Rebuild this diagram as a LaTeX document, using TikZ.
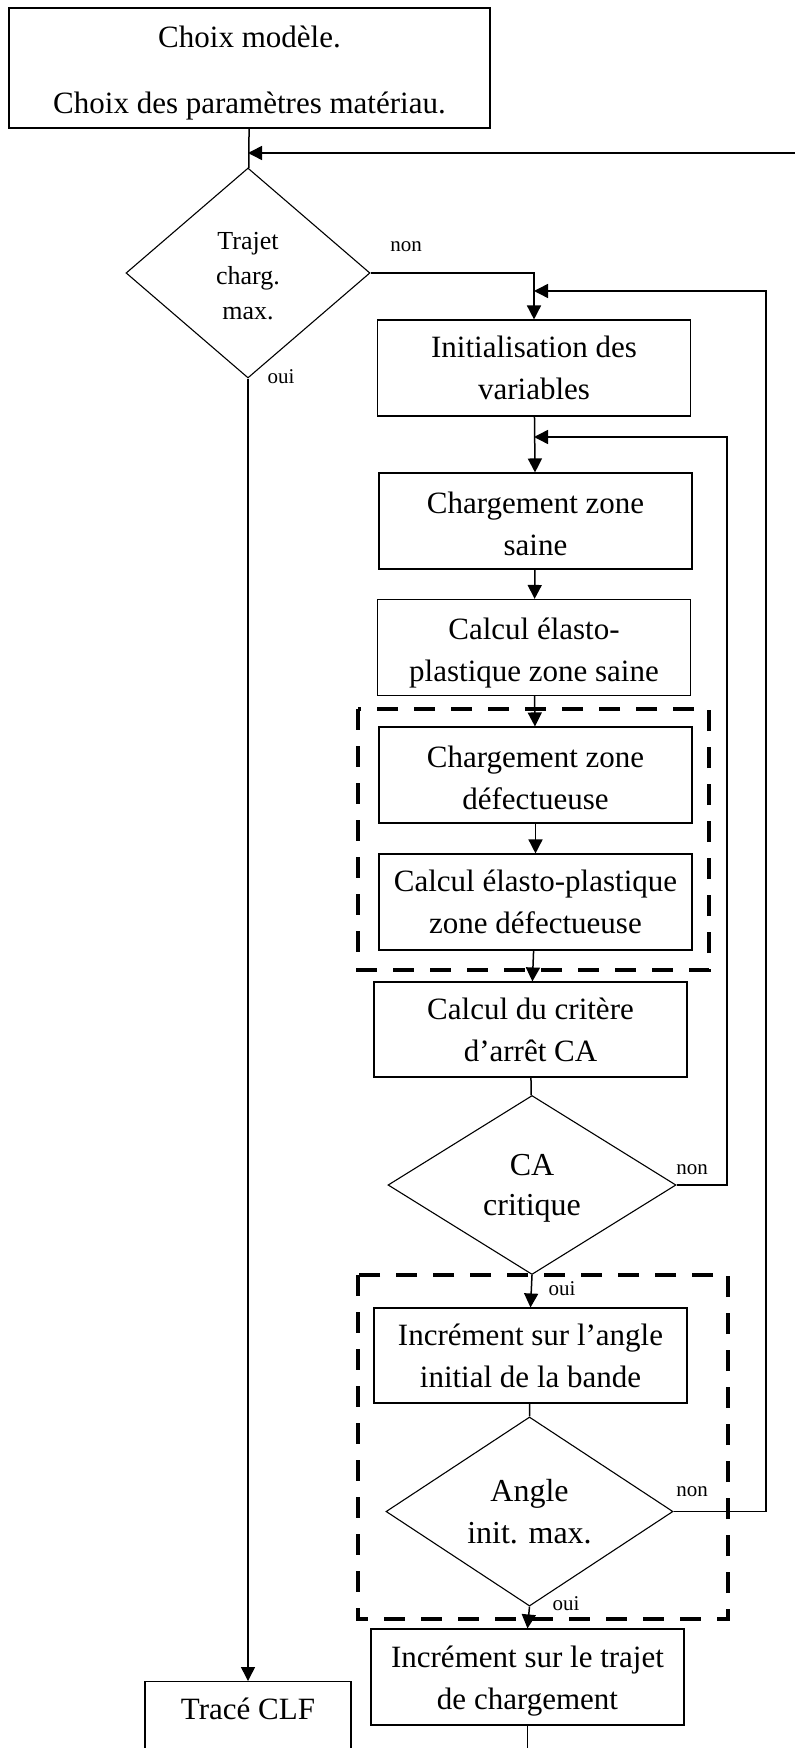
\documentclass[tikz,border=0pt]{standalone}
\usepackage{fontspec}
\setmainfont{Liberation Serif}
\usetikzlibrary{shapes.geometric,arrows.meta}
\newcommand{\haut}[1]{\rule{0pt}{#1}}
\tikzset{
  boite/.style={draw, line width=0.55pt, minimum width=156.5pt, minimum height=48pt,
    inner sep=0pt, align=center, font=\fontsize{15.5}{21}\selectfont},
  losange/.style={draw, diamond, line width=0.55pt, inner sep=0pt, align=center},
  fleche/.style={line width=0.75pt, -{Triangle[length=7pt,width=7pt]}},
  trait/.style={line width=0.75pt},
  cadre/.style={line width=2pt, dash pattern=on 10.5pt off 8pt},
  etiq/.style={inner sep=0pt, font=\fontsize{10.5}{12}\selectfont},
}
\begin{document}
\begin{tikzpicture}[x=0.5pt,y=-0.5pt]
      \useasboundingbox (0,0) rectangle (795,1748);
      \clip (0,0) rectangle (795,1748);
      \node[boite, minimum width=240.5pt, minimum height=60pt] (choix) at (249.5,68)
        {\haut{15.5pt}Choix modèle.\\[12pt]Choix des paramètres matériau.};
      \node[losange, minimum width=122pt, minimum height=105pt, font=\fontsize{13}{17.5}\selectfont]
        (trajet) at (248,273) {\haut{12pt}Trajet\\charg.\\max.};
      \node[boite] (init) at (534,368) {Initialisation des\\variables};
      \node[boite] (chsaine) at (535.5,521) {\haut{14pt}Chargement zone\\saine};
      \node[boite] (calsaine) at (534,647.5) {\haut{16pt}Calcul élasto-\\plastique zone saine};
      \node[boite] (chdef) at (535.5,775) {\haut{14pt}Chargement zone\\défectueuse};
      \node[boite] (caldef) at (535.5,902) {Calcul élasto-plastique\\zone défectueuse};
      \node[boite, minimum height=47.5pt] (critere) at (530.5,1029.5) {Calcul du critère\\d’arrêt CA};
      \node[losange, minimum width=144pt, minimum height=89.5pt, font=\fontsize{16}{20}\selectfont]
        (ca) at (532,1185) {\haut{13.5pt}CA\\critique};
      \node[boite, minimum height=47.5pt] (incangle) at (530.5,1355.5) {Incrément sur l’angle\\initial de la bande};
      \node[losange, minimum width=143.5pt, minimum height=90.5pt, font=\fontsize{16}{21}\selectfont]
        (angle) at (529.5,1511.5) {Angle\\init. max.};
      \node[boite] (inctrajet) at (527.5,1677) {\haut{14.5pt}Incrément sur le trajet\\de chargement};
      \node[boite, minimum width=103pt, anchor=north] (trace) at (248,1681) {Tracé CLF\\\mbox{}};

      \node[etiq] (non1) at (406,247) {non};
      \node[etiq] (oui1) at (281,377) {oui};
      \node[etiq] (non2) at (692,1170) {non};
      \node[etiq] (oui2) at (562,1289) {oui};
      \node[etiq] (non3) at (692,1492) {non};
      \node[etiq] (oui3) at (566,1604) {oui};

      \coordinate (retour) at (800,153);
      \coordinate (boucleA) at (766,291);
      \coordinate (boucleB) at (727,437);
      \coordinate (bas) at (0,1760);

      \draw[trait] (choix) -- (trajet);
      \draw[fleche] (retour) -- (retour -| trajet.north);
      \draw[fleche] (trajet.east) -| (init.north);
      \draw[fleche] (trajet.south) -- (trace.north);
      \draw[fleche] (init) -- (chsaine);
      \draw[fleche] (chsaine) -- (calsaine);
      \draw[fleche] (calsaine) -- (chdef);
      \draw[fleche] (chdef) -- (caldef);
      \draw[fleche] (caldef) -- (critere);
      \draw[trait] (critere) -- (ca);
      \draw[fleche] (ca.south) -- (incangle.north);
      \draw[trait] (incangle) -- (angle.north);
      \draw[fleche] (angle.south) -- (inctrajet.north);
      \draw[trait] (inctrajet.south) -- (inctrajet.south |- bas);
      \draw[fleche] (ca.east) -| (boucleB) -- (boucleB -| init.south);
      \draw[fleche] (angle.east) -| (boucleA) -- (boucleA -| init.north);

      \draw[cadre] (358,709) rectangle (709,970);
      \draw[cadre] (358,1275) rectangle (728,1619);
    \end{tikzpicture}
\end{document}
